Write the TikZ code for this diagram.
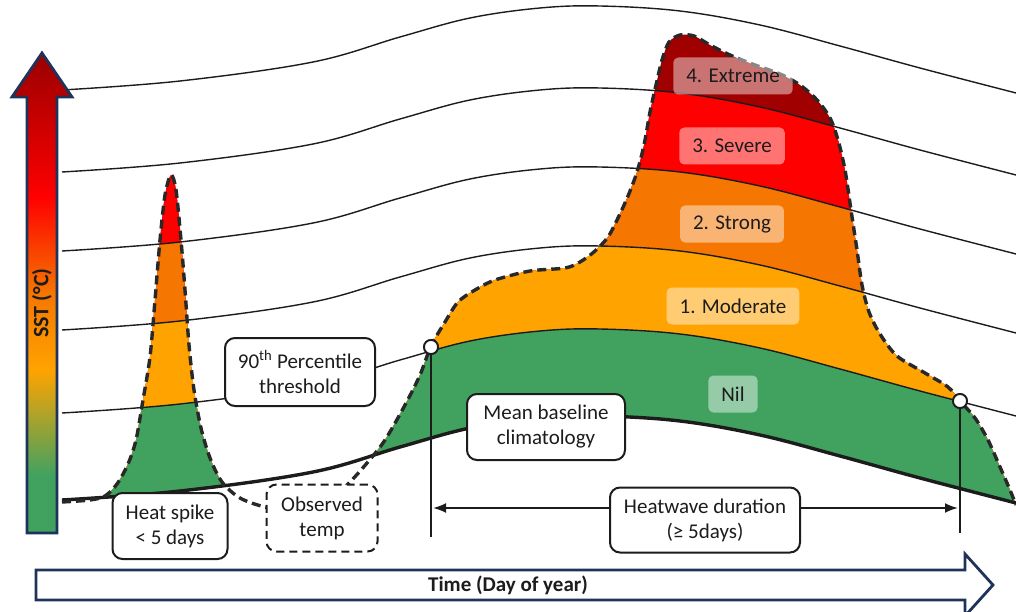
\documentclass[tikz,border=0pt]{standalone}
\usepackage{fontspec}
\setmainfont{Carlito}
\usetikzlibrary{arrows.meta}
\definecolor{cgreen}{RGB}{65,162,96}
\definecolor{camber}{RGB}{255,163,0}
\definecolor{corange}{RGB}{245,118,0}
\definecolor{cred}{RGB}{255,0,0}
\definecolor{cdark}{RGB}{160,0,0}
\definecolor{navy}{RGB}{31,50,90}
\definecolor{ink}{RGB}{28,28,28}
\definecolor{dashink}{RGB}{40,40,40}
\pgfdeclareverticalshading{sstgrad}{100bp}{color(0bp)=(cgreen); color(31bp)=(cgreen); color(42bp)=(camber); color(50bp)=(corange); color(60bp)=(cred); color(74bp)=(cdark); color(100bp)=(cdark)}
\newcommand\basepath{plot[smooth,tension=0.6] coordinates {(62,500) (180,491) (313,472) (400,447) (470,428) (540,418) (600,416) (680,421) (760,435) (840,456) (920,478) (1016,503)}}
\newcommand\obspath{plot[smooth,tension=0.5] coordinates {(62,502) (90,500) (105,496) (117,484) (128,464) (136,440) (143,400) (150,357) (155,300) (160,240) (165,195) (171,175) (176,190) (181,240) (185,290) (189,345) (194,390) (201,428) (210,458) (222,482) (240,498) (265,507) (295,511) (325,503) (347,485) (367,463) (385,440) (405,405) (420,375) (431,346) (445,322) (458,302) (475,290) (495,280) (530,271) (565,268) (580,262) (595,251) (608,237) (618,218) (628,196) (637,172) (644,145) (650,112) (656,85) (662,60) (669,42) (680,35) (694,36) (710,45) (730,55) (755,65) (780,74) (800,85) (817,100) (830,118) (838,140) (845,170) (851,210) (857,250) (862,285) (869,312) (880,334) (897,356) (925,373) (948,387) (960,401) (975,418) (988,440) (1000,467) (1010,490) (1016,505)}}
\tikzset{
  sline/.style={draw=ink, line width=1.4pt},
  baseln/.style={draw=ink, line width=3.4pt},
  obsln/.style={draw=dashink, line width=3.4pt, dash pattern=on 9pt off 5pt},
  txt/.style={font=\fontsize{21}{25}\selectfont, text=ink},
  band/.style={txt, fill=white, fill opacity=0.45, text opacity=1, rounded corners=5pt, inner xsep=13pt, inner ysep=0pt, minimum height=37pt},
  callout/.style={txt, draw=ink, line width=2pt, rounded corners=10pt, fill=white, align=center, inner sep=0pt},
  dot/.style={circle, draw=ink, fill=white, line width=1.8pt, minimum size=14pt, inner sep=0pt},
  bigarrow/.style={draw=navy, line width=2.8pt, line join=miter},
}
\begin{document}
\begin{tikzpicture}[x=1pt,y=-1pt]
\useasboundingbox (0,0) rectangle (1016,612);
% coloured fills under the observed curve
\begin{scope}
  \clip \obspath -- (1016,2000) -- (0,2000) -- cycle;
  \clip \basepath -- (1016,-200) -- (0,-200) -- cycle;
  \fill[cdark] (0,-200) rectangle (1016,2000);
  \fill[cred, yshift=328pt] \basepath -- (1016,2000) -- (0,2000) -- cycle;
  \fill[corange, yshift=249pt] \basepath -- (1016,2000) -- (0,2000) -- cycle;
  \fill[camber, yshift=170pt] \basepath -- (1016,2000) -- (0,2000) -- cycle;
  \fill[cgreen, yshift=87pt] \basepath -- (1016,2000) -- (0,2000) -- cycle;
\end{scope}
% threshold lines
\draw[sline, yshift=410pt] \basepath;
\draw[sline, yshift=328pt] \basepath;
\draw[sline, yshift=249pt] \basepath;
\draw[sline, yshift=170pt] \basepath;
\draw[sline, yshift=87pt] \basepath;
\draw[baseln] \basepath;
% observed temperature
\draw[obsln] \obspath;
% category labels
\node[band] (ext) at (733,76) {4. Extreme};
\node[band] (sev) at (732,146) {3. Severe};
\node[band] (str) at (732,224) {2. Strong};
\node[band] (mod) at (733,306) {1. Moderate};
\node[band] (nil) at (733,394) {Nil};
% duration markers
\node[dot] (c1) at (431,347) {};
\node[dot] (c2) at (960,401) {};
\coordinate (e1) at (431,537);
\coordinate (e2) at (960,533);
\draw[line width=2pt, draw=ink] (c1) -- (e1);
\draw[line width=2pt, draw=ink] (c2) -- (e2);
\coordinate (a1) at (433,508);
\coordinate (a2) at (958,508);
\draw[line width=2pt, draw=ink, {Latex[length=13pt,width=10pt]}-{Latex[length=13pt,width=10pt]}] (a1) -- (a2);
\foreach \c in {c1,c2} \node[dot] at (\c) {};
% callouts
\node[callout, minimum width=150pt, minimum height=68pt] (pct) at (300,372) {90\textsuperscript{th} Percentile\\threshold};
\node[callout, minimum width=158pt, minimum height=66pt] (mean) at (546,427) {Mean baseline\\climatology};
\node[callout, minimum width=115pt, minimum height=66pt] (spike) at (170,526) {Heat spike\\< 5 days};
\node[callout, dash pattern=on 8pt off 5pt, minimum width=111pt, minimum height=67pt] (obs) at (322,518) {Observed\\temp};
\node[callout, minimum width=190pt, minimum height=65pt] (dur) at (705,520) {Heatwave duration\\(≥ 5days)};
% axes arrows
\shade[shading=sstgrad, bigarrow] (27,533) -- (27,97) -- (12,97) -- (42,53) -- (72,97) -- (57,97) -- (57,533) -- cycle;
\node[txt, rotate=90, font=\bfseries\fontsize{22}{26}\selectfont] (sst) at (42,303) {SST (°C)};
\draw[bigarrow, fill=white] (36,570) -- (965,570) -- (965,554) -- (993,585) -- (965,616) -- (965,600) -- (36,600) -- cycle;
\node[txt, font=\bfseries\fontsize{21}{25}\selectfont] (time) at (508,585) {Time (Day of year)};
\end{tikzpicture}
\end{document}
